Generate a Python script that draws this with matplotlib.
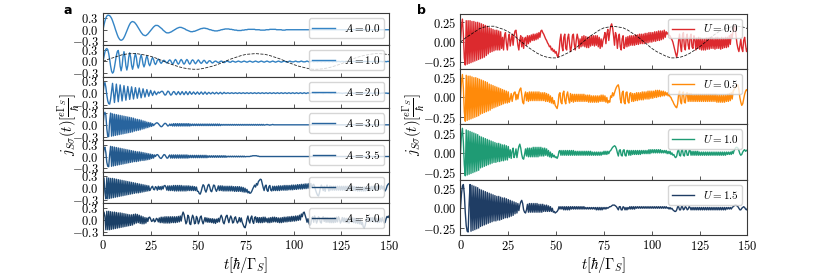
import numpy as np
import matplotlib.pyplot as plt

plt.rcParams.update({
    "font.family": "serif",
    "font.serif": ["cmr10"],
    "mathtext.fontset": "cm",
    "axes.formatter.use_mathtext": True,
    "axes.edgecolor": "#3a3a3a",
    "axes.linewidth": 0.8,
    "xtick.color": "#3a3a3a",
    "ytick.color": "#3a3a3a",
    "xtick.labelcolor": "black",
    "ytick.labelcolor": "black",
})

# current traces in units of 0.01, sampled every 0.5 hbar/Gamma_S from t=0 to t=150
a00 = [0,12,22,30,35,37,37,36,33,29,23,16,9,1,-6,-13,-19,-23,-26,-27,
       -26,-24,-20,-15,-9,-3,3,9,14,18,20,21,20,19,16,13,9,5,1,-3,
       -7,-10,-13,-14,-15,-15,-13,-11,-8,-5,-2,1,4,7,9,11,11,11,10,8,
       6,4,2,-1,-3,-5,-7,-8,-8,-8,-7,-6,-5,-3,-2,0,1,3,4,5,
       6,6,6,5,4,3,2,0,-1,-2,-3,-4,-5,-5,-5,-4,-4,-3,-2,-1,
       0,1,2,3,3,4,4,4,3,3,2,1,0,0,-1,-2,-2,-3,-3,-3,
       -3,-2,-2,-1,0,0,1,1,2,2,2,2,2,1,1,1,0,0,-1,-1,
       -1,-2,-2,-2,-2,-2,-1,-1,-1,0,0,0,1,1,1,1,1,1,1,1,
       0,0,0,0,0,-1,-1,-1,-1,-1,-1,0,0,0,0,1,1,1,1,1,
       1,1,0,0,0,0,0,0,-1,-1,-1,-1,0,0,0,0,0,0,0,0,
       0,0,0,0,0,0,0,0,0,0,0,0,0,0,0,0,0,0,0,0,
       0,0,0,0,0,0,0,0,0,0,0,0,0,0,0,0,0,0,0,0,
       0,0,0,0,0,0,0,0,0,0,0,0,0,0,0,0,0,0,0,0,
       0,0,0,0,0,0,0,0,0,0,0,0,0,0,0,0,0,0,0,0,
       0,0,0,0,0,0,0,0,0,0,0,0,0,0,0,0,0,0,0,0,
       0]

a10 = [0,12,24,31,33,30,20,5,-12,-25,-30,-27,-15,0,15,25,28,14,-12,-24,
       -12,12,25,12,-11,-22,-11,11,22,11,-10,-20,-10,10,20,10,-9,-17,-8,8,
       17,8,-7,-14,-7,7,14,7,-6,-11,-5,5,10,5,-4,-8,-4,3,6,3,
       -2,-5,-2,2,3,1,-2,-4,-2,2,4,2,-3,-7,-4,2,5,2,-4,-7,
       -4,2,5,2,-4,-7,-4,2,5,2,-4,-7,-4,2,4,2,-3,-6,-3,1,
       4,1,-3,-5,-3,1,3,1,-3,-5,-2,1,2,0,-3,-4,-2,0,1,0,
       -2,-3,-2,0,1,0,-2,-3,-2,0,1,0,-1,-2,-2,0,1,0,-1,-2,
       -1,0,1,0,-1,-2,-1,0,1,0,-1,-2,-1,0,1,0,-1,-2,-1,0,
       1,0,-1,-2,-1,0,1,0,-1,-2,-1,0,1,0,-1,-2,-1,0,1,0,
       -1,-2,-1,0,1,0,-1,-2,-1,0,1,0,-1,-2,-1,0,1,0,-1,-1,
       -1,0,1,0,-1,-1,-1,0,1,0,-1,-1,-1,0,1,0,-1,-1,0,0,
       0,-1,0,0,0,-1,0,0,0,-1,0,0,0,-1,0,0,0,-1,0,0,
       0,-1,0,0,0,-1,0,0,0,-1,0,0,0,-1,0,0,0,-1,0,0,
       0,-1,0,0,0,-1,0,0,0,-1,0,0,0,-1,0,0,0,-1,0,0,
       0,-1,0,0,0,-1,0,0,0,-1,0,0,0,-1,0,0,0,-1,0,0,
       0]

a20 = [0,20,27,15,-5,-20,-27,-28,-15,5,25,0,-24,0,23,0,-22,0,21,0,
       -20,0,19,0,-18,0,17,0,-16,0,16,0,-15,0,14,0,-13,0,13,0,
       -12,0,11,0,-10,0,9,0,-8,0,7,0,-6,0,5,0,-4,0,3,0,
       2,4,5,3,-2,-5,-4,1,5,4,-1,-5,-4,1,4,3,-2,-4,0,4,
       0,-4,0,4,0,-4,0,4,0,-4,0,4,0,-3,0,3,0,-3,0,3,
       0,-3,0,3,0,-3,0,3,0,-3,0,2,0,-2,0,2,0,-2,0,2,
       0,-2,0,2,0,-2,0,2,0,-1,0,1,0,-1,0,1,0,-1,0,1,
       0,-1,0,1,0,-1,0,1,0,-1,0,1,0,-1,0,1,0,-1,0,1,
       0,-1,0,1,0,-1,0,1,0,-1,0,1,0,-1,0,1,0,-1,0,1,
       0,-1,0,1,0,-1,0,1,0,-1,0,1,0,-1,0,1,0,-1,0,1,
       0,-1,0,1,0,-1,0,1,0,-1,0,1,0,-1,0,1,0,-1,0,1,
       0,0,0,-1,0,0,0,1,0,0,0,-1,0,0,0,1,0,0,0,-1,
       0,0,0,-1,0,0,0,1,0,0,0,-1,0,0,0,1,0,0,0,-1,
       0,0,0,-1,0,0,0,1,0,0,0,-1,0,0,0,1,0,0,0,-1,
       0,0,0,-1,0,0,0,1,0,0,0,-1,0,0,0,1,0,0,0,-1,
       0]

a30 = [0,25,32,25,-10,-30,-30,10,30,-29,28,-28,27,-27,26,-26,25,-25,24,-24,
       23,-23,22,-22,21,-21,20,-20,19,-19,18,-18,17,-16,15,-15,14,-14,13,-13,
       12,-11,10,-10,9,-8,7,-7,6,-5,5,-4,3,-2,1,3,5,5,3,0,
       -3,-5,-4,-1,2,4,3,0,-3,-2,2,-2,2,-3,3,-3,3,-3,3,-3,
       3,-3,3,-3,3,-3,3,-3,3,-3,3,-3,2,-2,2,-2,2,-2,2,-2,
       2,-2,2,-2,2,-2,2,-2,2,-2,2,-2,2,-2,2,-2,2,-2,2,-2,
       2,-2,2,-2,1,-1,1,-1,1,-1,1,-1,1,-1,1,-1,1,-1,1,-1,
       1,-1,1,-1,1,-1,1,-1,1,-1,1,-1,1,-1,1,-1,1,-1,1,-1,
       1,-1,1,-1,1,-1,1,-1,1,-1,0,0,1,0,0,-1,0,0,1,0,
       0,0,0,0,0,0,0,0,0,0,0,0,0,0,0,0,0,0,0,0,
       0,0,0,0,0,0,0,0,0,0,0,0,0,0,0,0,0,0,0,0,
       0,0,0,0,0,0,0,0,0,0,0,0,0,0,0,0,0,0,0,0,
       0,0,0,0,0,0,0,0,0,0,0,0,0,0,0,0,0,0,0,0,
       0,0,0,0,0,0,0,0,0,0,0,0,0,0,0,0,0,0,0,0,
       0,0,0,0,0,0,0,0,0,0,0,0,0,0,0,0,0,0,0,0,
       0]

a35 = [0,20,24,10,-15,-25,-26,5,26,-25,25,-24,24,-23,23,-22,22,-21,21,-20,
       20,-19,19,-18,18,-17,17,-16,16,-15,15,-14,14,-13,13,-13,12,-12,12,-11,
       11,-10,10,-10,9,-9,8,-8,7,-7,6,-5,5,-4,4,0,4,5,3,-1,
       -4,-5,-2,2,5,4,0,-4,-4,1,4,-4,4,-4,4,-4,4,-4,4,-4,
       4,-4,4,-4,4,-4,4,-4,4,-4,3,-3,3,-3,3,-3,3,-3,3,-3,
       3,-3,3,-3,3,-3,3,-3,3,-3,2,-2,2,-2,2,-2,2,-2,2,-2,
       2,-2,2,-2,2,-2,2,-2,2,-2,1,-1,1,-1,1,-1,1,-1,1,-1,
       1,-1,1,-1,1,-1,1,-1,1,-1,0,0,0,0,0,1,1,2,2,2,
       2,2,1,1,0,0,0,0,0,0,0,0,0,0,0,0,0,0,0,0,
       0,0,0,0,0,0,0,0,0,0,0,0,0,0,0,0,0,0,0,0,
       0,0,0,0,0,0,0,0,0,0,0,0,0,0,0,0,0,0,0,0,
       0,0,0,0,0,0,0,0,0,0,0,0,0,0,0,0,0,0,0,0,
       0,0,0,0,0,0,0,0,0,0,0,0,0,0,0,0,0,0,0,0,
       0,0,0,0,0,0,0,0,0,0,0,0,0,0,0,0,0,0,0,0,
       0,0,0,0,0,0,0,0,0,0,0,0,0,0,0,0,0,0,0,0,
       0]

a40 = [0,26,-10,-27,27,-27,26,-26,25,-25,25,-24,24,-23,23,-22,22,-21,21,-20,
       20,-19,19,-18,18,-17,17,-16,16,-15,15,-14,14,-13,13,-12,12,-12,11,-11,
       10,-10,9,-9,8,-8,7,-7,6,-6,-2,3,5,-3,-4,4,2,-5,5,-3,
       4,-4,5,-2,6,7,3,-5,6,-6,6,-6,6,-6,7,-7,7,-7,7,-7,
       7,-7,7,-7,6,-7,6,-7,6,-6,6,-6,5,-6,5,-6,4,-6,3,-8,
       -8,-14,-15,-8,2,9,6,-5,-10,-3,7,10,3,-7,-9,0,8,7,-3,-8,
       -2,6,-6,6,-6,6,-7,5,-7,5,-7,5,-7,5,-7,5,-7,4,-8,4,
       -8,4,-8,4,-8,3,-9,2,-10,0,-10,-3,-12,-8,-13,-12,-8,-2,3,8,
       3,12,8,17,20,23,22,12,2,-6,5,8,-5,-8,4,7,-5,-7,5,-6,
       5,-6,5,-6,6,-6,6,-5,6,-5,7,-5,7,-5,7,-4,7,-4,8,-4,
       8,-3,8,-3,9,-2,9,-2,10,-2,10,-1,11,-1,11,0,12,0,12,2,
       8,10,4,-5,-12,-18,-20,-12,0,8,3,-6,5,-8,3,8,0,-7,6,-5,
       5,-5,5,-5,5,-5,5,-5,5,-5,5,-5,5,-5,5,-5,5,-5,5,-5,
       5,-5,5,-6,4,-6,4,-7,4,-7,3,-7,3,-7,3,-7,3,-6,4,-6,
       4,-5,5,-5,5,-4,6,-4,6,-4,6,-3,7,-2,5,-5,-7,-2,6,10,
       12]

a50 = [0,20,10,-25,22,-25,22,-25,21,-24,20,-23,20,-22,19,-21,18,-20,18,-19,
       17,-18,16,-17,15,-16,14,-15,13,-14,13,-13,14,-10,15,-8,14,-7,12,-9,
       10,-10,8,-10,6,-8,5,-4,6,7,2,-4,-2,3,-5,-3,4,2,-5,5,
       -7,7,-7,7,-8,8,-8,8,-8,8,-8,8,-7,8,-7,8,-7,8,-6,9,
       -5,10,-3,12,20,14,2,-10,-5,12,8,-10,-12,3,12,6,-10,-8,9,4,
       -10,-4,7,10,-3,-10,-2,6,-5,5,-6,4,-6,3,-7,3,-8,2,-9,2,
       -6,4,-5,6,12,6,-6,-10,0,9,12,2,-7,3,10,4,-8,-6,5,8,
       -2,-8,-3,6,-5,5,-6,-12,-18,-20,-12,2,10,-2,-8,5,10,-4,-9,6,
       8,-6,6,-7,6,-7,6,-7,7,-6,7,-5,4,-7,5,-7,6,-6,7,-5,
       7,-5,6,-6,5,-7,5,-7,6,-6,7,-5,7,-5,8,-4,8,-4,9,-3,
       9,-3,10,-2,10,-1,12,0,15,8,18,20,12,4,-6,3,-8,-14,-10,5,
       8,-6,10,2,-8,-2,8,5,-6,-8,5,8,-4,6,-6,6,-6,5,-7,5,
       -7,5,-7,6,-6,7,-5,8,2,-8,-3,6,-5,5,-6,4,-7,4,-8,3,
       5,-6,5,-7,4,-8,3,-9,2,-10,0,-12,-6,-18,-21,-14,-2,6,-3,5,
       -5,6,-4,6,-5,5,-6,4,-7,3,-6,4,-5,6,-3,-8,-6,4,9,6,
       10]

u00 = [0,20,29,10,-20,-29,27,-28,27,-27,27,-26,26,-25,26,-24,25,-23,25,-22,
       24,-21,23,-20,22,-19,21,-17,20,-15,18,-13,17,-12,16,-11,15,-10,15,-10,
       14,-10,13,-8,6,-10,8,12,-2,-10,4,10,-5,3,10,-4,8,14,15,6,
       -4,-10,2,8,-6,6,-8,4,6,-4,8,-2,8,0,9,2,10,2,10,3,
       11,4,12,6,14,15,12,10,7,4,2,-1,-3,-6,-5,-10,-8,-12,-10,-14,
       -12,-17,-19,-12,2,10,-5,-11,6,10,-8,-10,5,10,-2,-12,-6,8,10,-3,
       -10,2,10,4,-8,4,-6,7,-5,8,-6,7,-7,6,-7,7,-5,8,-4,8,
       -5,8,-4,8,-6,6,-8,4,-6,2,6,12,-2,10,16,2,12,20,23,18,
       8,-4,12,8,-8,4,10,-6,-10,4,8,-8,-5,6,-6,7,-5,8,-4,8,
       -4,8,-4,9,-3,9,-3,10,-2,10,-2,10,-2,11,-1,11,-1,12,0,12,
       0,12,1,13,1,13,2,14,2,14,3,14,4,15,6,13,10,12,8,8,
       5,3,0,-5,-10,-15,-19,-12,2,10,-5,-12,8,12,-6,-10,6,10,-4,-9,
       6,10,-6,-8,8,4,-10,5,-8,6,-9,5,-10,4,-10,4,-10,5,-9,5,
       -9,6,-8,6,-8,5,-9,6,-8,6,-8,5,-9,6,-8,5,-7,6,-7,6,
       -6,8,-3,10,5,15,21,18,8,-2,-8,-12,-5,4,-8,-12,2,6,-4,-12,
       -8]

u05 = [0,20,29,12,-18,-30,28,-29,27,-28,27,-27,26,-26,25,-25,25,-24,24,-23,
       23,-21,22,-20,21,-19,20,-18,19,-17,17,-16,16,-14,15,-13,14,-12,13,-11,
       12,-10,11,-9,10,-8,9,-7,8,-7,7,-6,-2,5,-5,2,6,7,-3,4,
       -2,6,10,12,4,-6,-8,2,7,-4,6,-5,7,-4,7,-4,7,-4,7,-4,
       7,-4,7,-4,6,-4,6,-4,6,-5,5,-5,4,-6,2,-7,0,-8,-4,-10,
       -12,-14,-8,4,6,-6,-8,5,8,-4,-8,3,7,-2,-7,5,-5,4,-6,4,
       -5,4,-5,4,-5,4,-5,4,-5,4,-5,3,-5,3,-6,3,-6,2,-6,2,
       -6,2,-6,2,-6,2,-5,3,-5,3,-5,2,-6,0,-7,-4,-6,2,0,6,
       2,6,10,13,15,16,10,-2,-7,6,8,-6,-8,6,7,-5,-7,5,6,-5,
       5,-5,5,-4,6,-4,6,-3,6,-3,7,-3,7,-2,7,-2,8,-2,8,-1,
       8,-1,8,0,9,0,9,1,9,1,8,2,8,2,7,3,6,2,4,1,
       0,-3,-5,-8,-10,-12,-13,-8,4,8,-5,-8,6,7,-6,-7,5,6,-5,5,
       -5,5,-5,4,-5,4,-5,4,-5,4,-5,4,-5,4,-5,4,-5,4,-5,4,
       -5,4,-5,4,-5,4,-5,4,-6,3,-6,3,-6,3,-6,3,-6,3,-5,4,
       -5,5,-4,6,-2,8,10,12,14,15,16,10,0,-6,-10,-8,-2,4,8,10,
       8]

u10 = [0,22,31,14,-15,-29,29,-28,28,-27,27,-26,26,-25,25,-24,24,-23,23,-22,
       21,-19,20,-18,19,-17,18,-16,17,-15,16,-14,15,-13,14,-12,13,-12,12,-11,
       12,-11,11,-10,10,-10,10,-9,9,-9,8,-6,4,-7,2,6,-6,-2,5,-6,
       2,8,11,6,-2,-7,-8,-2,5,-4,6,-5,6,-5,6,-5,7,-5,7,-5,
       7,-5,7,-4,7,-4,6,-4,6,-3,5,-4,3,-5,1,-6,-1,-5,-3,-6,
       -5,-7,-4,2,3,-3,3,-3,3,-3,3,-3,3,-3,3,-3,3,-3,3,-3,
       2,-3,2,-3,2,-3,2,-3,2,-3,2,-3,2,-3,2,-3,2,-3,1,-3,
       1,-3,1,-3,1,-3,1,-3,1,-2,2,-2,2,-2,2,-1,2,3,5,7,
       8,9,8,5,0,-4,3,4,-3,-4,3,4,-3,-4,3,3,-3,3,-3,3,
       -2,3,-2,3,-2,3,-2,3,-2,3,-1,3,-1,3,-1,3,-1,4,-1,4,
       0,4,0,4,0,4,0,4,0,4,0,3,0,3,0,3,-1,2,-1,2,
       -2,0,-3,-2,-5,-6,-4,2,4,-3,-4,3,4,-3,-4,3,3,-3,-3,3,
       3,-3,2,-3,2,-3,2,-3,2,-3,1,-3,1,-3,1,-3,1,-3,1,-3,
       1,-3,1,-3,1,-3,1,-3,1,-3,1,-3,1,-3,1,-3,1,-3,1,-2,
       1,-2,1,-2,2,-1,3,5,7,7,6,3,-1,-3,-2,1,3,4,2,3,
       4]

u15 = [0,18,28,30,18,-5,-22,-29,-30,5,30,-29,29,-28,28,-27,27,-26,26,-25,
       24,-23,23,-22,22,-21,21,-20,20,-19,19,-18,18,-17,17,-16,16,-16,15,-15,
       15,-15,14,-14,13,-13,13,-12,12,-12,11,-11,10,-10,9,-9,8,-7,7,-6,
       6,-3,4,8,10,6,-2,-5,-6,-2,5,-5,6,-5,6,-5,6,-5,6,-5,
       6,-5,5,-5,5,-5,5,-4,4,-4,4,-4,3,-4,2,-4,0,-5,-4,-6,
       -5,-4,-2,2,-1,2,-1,2,-2,2,-2,2,-2,2,-2,2,-1,2,-1,2,
       -1,2,-1,2,-1,2,-1,2,-1,2,-1,1,-1,1,-1,1,-1,1,-1,1,
       -1,1,-2,1,-2,1,-2,1,-2,1,-1,1,-1,1,0,1,2,2,3,4,
       4,4,3,2,0,-2,2,2,-2,-2,2,1,-2,1,-2,1,-1,2,-1,2,
       -1,2,-1,2,0,2,0,2,0,2,0,2,0,2,0,2,0,2,0,2,
       0,2,0,2,0,2,0,2,0,2,0,2,0,2,0,2,0,1,-1,1,
       -1,0,-2,-3,-4,-4,-2,2,2,-2,-2,2,2,-2,-1,2,1,-2,-1,2,
       1,-2,1,-2,1,-2,1,-2,1,-2,1,-2,1,-2,1,-2,1,-2,1,-2,
       1,-2,1,-2,1,-2,1,-2,1,-2,1,-2,1,-2,1,-2,1,-2,1,-1,
       1,-1,1,-1,1,2,3,4,4,3,2,0,-2,-2,0,1,2,1,-1,-2,
       0]

# slow drive (dashed), units of 0.01, every 2.5 hbar/Gamma_S
drive = [0,5,9,13,17,19,20,20,18,16,13,9,4,-1,-6,-10,-14,-17,-19,-20,
         -20,-18,-15,-12,-8,-3,2,7,11,15,18,19,20,19,18,15,11,7,2,-3,
         -8,-12,-15,-18,-20,-20,-19,-17,-14,-10,-6,-1,4,9,13,16,18,20,20,19,
         17]

a_values = [0.0, 1.0, 2.0, 3.0, 3.5, 4.0, 5.0]
a_series = [a00, a10, a20, a30, a35, a40, a50]
a_colors = ["#3585c6", "#3281c2", "#2d73b2", "#28649e", "#245a8e", "#1e4b77", "#1a3f66"]

u_values = [0.0, 0.5, 1.0, 1.5]
u_series = [u00, u05, u10, u15]
u_colors = ["#dc2a2e", "#ff8a0a", "#1f9b74", "#1f3d64"]

ylab = r"$j_{S\sigma}(t)[\frac{e\Gamma_S}{\hbar}]$"
xlab = r"$t[\hbar/\Gamma_S]$"


def time_axis(vals, step=0.5):
    return np.arange(len(vals)) * step


def draw_panel(fig, gs, names, series, colors, symbol, ylim, yticks, drive_row):
    axes = []
    for i, (v, vals, c) in enumerate(zip(names, series, colors)):
        ax = fig.add_subplot(gs[i, 0], sharex=axes[0] if axes else None)
        y = np.array(vals) / 100
        ax.plot(time_axis(vals), y, color=c, lw=1.0, label=f"${symbol}={v:.1f}$")
        if i == drive_row:
            ax.plot(time_axis(drive, 2.5), np.array(drive) / 100, color="k",
                    lw=0.6, ls="--", alpha=0.85)
        ax.set_ylim(*ylim)
        ax.set_yticks(yticks)
        ax.set_xlim(0, 150)
        ax.set_xticks(np.arange(0, 151, 25))
        ax.tick_params(direction="in", length=3, width=0.6, labelsize=9, pad=3)
        ax.legend(loc="upper right", fontsize=8, handlelength=2.0,
                  borderaxespad=0.45, borderpad=0.35)
        if i < len(names) - 1:
            ax.tick_params(labelbottom=False)
        axes.append(ax)
    axes[-1].set_xlabel(xlab, fontsize=10.5, labelpad=1)
    return axes


fig = plt.figure(figsize=(8.3, 2.77), dpi=100)

gs_a = fig.add_gridspec(7, 1, left=0.1241, right=0.4687, top=0.952, bottom=0.151, hspace=0)
gs_b = fig.add_gridspec(4, 1, left=0.5548, right=0.9006, top=0.951, bottom=0.151, hspace=0)

draw_panel(fig, gs_a, a_values, a_series, a_colors, "A", (-0.39, 0.42), [-0.3, 0.0, 0.3], 1)
draw_panel(fig, gs_b, u_values, u_series, u_colors, "U", (-0.34, 0.36), [-0.25, 0.0, 0.25], 0)

fig.text(0.083, 0.55, ylab, rotation=90, ha="center", va="center", fontsize=10.5)
fig.text(0.498, 0.55, ylab, rotation=90, ha="center", va="center", fontsize=10.5)

fig.text(63 / 830, 1 - 10 / 277, "a", family="DejaVu Sans", weight="bold", fontsize=9, va="center")
fig.text(417 / 830, 1 - 10 / 277, "b", family="DejaVu Sans", weight="bold", fontsize=9, va="center")

fig.savefig("out.png", dpi=100)
